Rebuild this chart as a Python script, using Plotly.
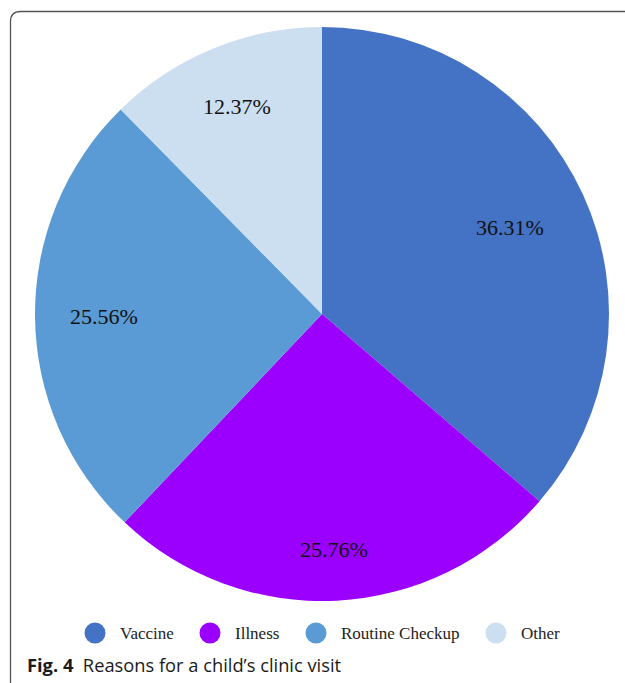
import math
import plotly.graph_objects as go

# Reasons for a child's clinic visit (share of visits, %)
categories = ["Vaccine", "Illness", "Routine Checkup", "Other"]
shares = [36.31, 25.76, 25.56, 12.37]
colors = ["#4472C4", "#9B00FF", "#5B9BD5", "#CCDFF1"]

# how far out (fraction of radius) each slice's value label sits
label_radius = [0.72, 0.82, 0.76, 0.78]

W, H = 625, 683
PIE_LEFT, PIE_RIGHT, PIE_TOP, PIE_BOTTOM = 35, 609, 27, 601

fig = go.Figure()

fig.add_trace(go.Pie(
    labels=categories,
    values=shares,
    sort=False,
    direction="clockwise",
    rotation=0,
    marker=dict(colors=colors, line=dict(width=0)),
    textinfo="none",
    hoverinfo="label+percent",
    showlegend=False,
    domain=dict(x=[PIE_LEFT / W, PIE_RIGHT / W],
                y=[1 - PIE_BOTTOM / H, 1 - PIE_TOP / H]),
))

shapes = []
annotations = []

# Value labels at the middle angle of each slice
cx = (PIE_LEFT + PIE_RIGHT) / 2
cy = (PIE_TOP + PIE_BOTTOM) / 2
radius = (PIE_RIGHT - PIE_LEFT) / 2
total = sum(shares)
start = 0.0
for val, frac in zip(shares, label_radius):
    mid = (start + val / 2) / total * 2 * math.pi
    start += val
    px = cx + frac * radius * math.sin(mid)
    py = cy - frac * radius * math.cos(mid)
    annotations.append(dict(
        x=px / W, y=1 - py / H, xref="paper", yref="paper",
        text=f"{val:.2f}%", showarrow=False,
        xanchor="center", yanchor="middle",
        font=dict(family="Liberation Serif", size=22, color="#111111"),
    ))

# Legend row: circle swatch + label for each category
legend_y = 1 - 633 / H
swatch_x = [95, 210, 316, 496]
for name, col, px in zip(categories, colors, swatch_x):
    shapes.append(dict(
        type="circle", xref="paper", yref="paper",
        xsizemode="pixel", ysizemode="pixel",
        xanchor=px / W, yanchor=legend_y,
        x0=-10.5, x1=10.5, y0=-10.5, y1=10.5,
        fillcolor=col, line=dict(width=0),
    ))
    annotations.append(dict(
        x=(px + 23) / W, y=legend_y, xref="paper", yref="paper",
        text=name, showarrow=False, xanchor="left", yanchor="middle",
        font=dict(family="Liberation Serif", size=17, color="#222222"),
    ))

# Caption under the chart
annotations.append(dict(
    x=25 / W, y=1 - 664 / H, xref="paper", yref="paper",
    text="<b>Fig. 4</b>  Reasons for a child\u2019s clinic visit",
    showarrow=False, xanchor="left", yanchor="middle",
    font=dict(family="Open Sans", size=18.3, color="#1a1a1a"),
))

# Rounded frame around the figure (open at right and bottom edges)
r = 10
x0, y0 = 10.5 / W, 1 - 11.5 / H
path = (
    f"M {x0} 0 L {x0} {y0 - r / H} "
    f"Q {x0} {y0} {x0 + r / W} {y0} L 1.02 {y0}"
)
shapes.append(dict(
    type="path", xref="paper", yref="paper", path=path,
    line=dict(color="#555555", width=1.3),
))

fig.update_layout(
    width=W, height=H,
    margin=dict(l=0, r=0, t=0, b=0),
    paper_bgcolor="white",
    plot_bgcolor="white",
    shapes=shapes,
    annotations=annotations,
)

fig.write_html("out.html")
